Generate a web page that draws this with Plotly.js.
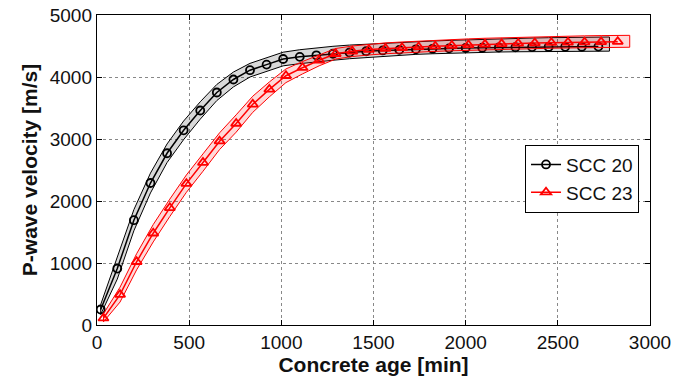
<!DOCTYPE html>
<html>
<head>
<meta charset="utf-8">
<script src="https://cdn.plot.ly/plotly-3.0.1.min.js"></script>
<style>html,body{margin:0;padding:0;background:#fff;}#chart{width:686px;height:380px;}</style>
</head>
<body>
<div id="chart"></div>
<script>
// ---- Data ----
const seriesNames = ["SCC 20", "SCC 23"];

const scc20Age = [20,110,200,290,380,470,560,650,740,830,920,1010,1100,1190,1280,1370,1460,1550,1640,1730,1820,1910,2000,2090,2180,2270,2360,2450,2540,2630,2720];
const scc20Vel = [250,910,1690,2290,2770,3140,3460,3750,3960,4110,4200,4290,4325,4350,4375,4395,4415,4428,4438,4447,4455,4462,4468,4472,4476,4480,4483,4485,4487,4488,4490];
const scc20BandAge = [20,110,200,290,380,470,560,650,740,830,920,1010,1100,1190,1280,1370,1460,1550,1640,1730,1820,1910,2000,2090,2180,2270,2360,2450,2540,2630,2720,2780];
const scc20Upper = [330,1080,1860,2450,2920,3290,3600,3880,4080,4220,4310,4400,4440,4470,4495,4515,4530,4545,4560,4570,4580,4590,4600,4608,4615,4622,4628,4634,4638,4642,4645,4645];
const scc20Lower = [170,740,1520,2130,2620,2990,3320,3620,3840,4000,4090,4180,4215,4245,4270,4295,4315,4335,4350,4365,4375,4385,4392,4398,4403,4407,4410,4413,4415,4416,4417,4417];

const scc23Age = [35,125,215,305,395,485,575,665,755,845,935,1025,1115,1205,1295,1385,1475,1565,1655,1745,1835,1925,2015,2105,2195,2285,2375,2465,2555,2645,2735,2825];
const scc23Vel = [110,490,1020,1480,1890,2280,2620,2965,3250,3560,3800,4020,4150,4270,4375,4415,4442,4460,4472,4485,4497,4508,4518,4527,4535,4542,4548,4553,4558,4562,4566,4570];
const scc23BandAge = [35,125,215,305,395,485,575,665,755,845,935,1025,1115,1205,1295,1385,1475,1565,1655,1745,1835,1925,2015,2105,2195,2285,2375,2465,2555,2645,2735,2825,2890];
const scc23Upper = [180,610,1150,1620,2030,2420,2760,3100,3390,3690,3920,4130,4250,4360,4460,4500,4530,4550,4565,4580,4592,4604,4615,4625,4633,4641,4648,4654,4659,4664,4668,4672,4672];
const scc23Lower = [50,370,890,1340,1750,2140,2480,2830,3110,3430,3680,3910,4050,4180,4290,4330,4355,4375,4390,4402,4413,4423,4432,4440,4447,4453,4459,4464,4468,4472,4476,4480,4480];

const xTicks = [0,500,1000,1500,2000,2500,3000];
const yTicks = [0,1000,2000,3000,4000,5000];

// ---- Build traces ----
function band(xs, up, lo, lineColor, fillColor) {
  return {
    x: xs.concat(xs.slice().reverse(), [xs[0]]),
    y: up.concat(lo.slice().reverse(), [up[0]]),
    type: "scatter", mode: "lines", fill: "toself",
    fillcolor: fillColor,
    line: {color: lineColor, width: 1},
    showlegend: false, hoverinfo: "skip"
  };
}

const traces = [
  band(scc20BandAge, scc20Upper, scc20Lower, "#000000", "rgba(0,0,0,0.15)"),
  {
    x: scc20Age, y: scc20Vel, name: seriesNames[0],
    type: "scatter", mode: "lines+markers",
    line: {color: "#000000", width: 1.5},
    marker: {symbol: "circle-open", size: 8, color: "#000000", line: {width: 1.8, color: "#000000"}}
  },
  band(scc23BandAge, scc23Upper, scc23Lower, "#ff0000", "rgba(255,0,0,0.15)"),
  {
    x: scc23Age, y: scc23Vel, name: seriesNames[1],
    type: "scatter", mode: "lines+markers",
    line: {color: "#ff0000", width: 1.5},
    marker: {symbol: "triangle-up-open", size: 9, color: "#ff0000", line: {width: 1.8, color: "#ff0000"}}
  }
];

const axisCommon = {
  showline: true, linecolor: "#000", linewidth: 1.2, mirror: "ticks",
  ticks: "inside", ticklen: 5, tickcolor: "#000",
  showgrid: true, gridcolor: "#888", griddash: "dot", gridwidth: 1,
  zeroline: false,
  tickfont: {family: "Liberation Sans, Arial, sans-serif", size: 19, color: "#111"}
};

const layout = {
  width: 686, height: 380,
  margin: {l: 97, r: 36, t: 15, b: 55},
  paper_bgcolor: "#fff", plot_bgcolor: "#fff",
  font: {family: "Liberation Sans, Arial, sans-serif", color: "#111"},
  xaxis: Object.assign({}, axisCommon, {
    range: [0, 3000], tickvals: xTicks, ticktext: xTicks.map(String),
    title: {text: "<b>Concrete age [min]</b>", font: {size: 21, color: "#111"}, standoff: 3}
  }),
  yaxis: Object.assign({}, axisCommon, {
    range: [0, 5000], tickvals: yTicks, ticktext: yTicks.map(String),
    title: {text: "<b>P-wave velocity [m/s]</b>", font: {size: 21, color: "#111"}, standoff: 6}
  }),
  showlegend: true,
  legend: {
    x: 0.774, y: 0.582, xanchor: "left", yanchor: "top",
    bgcolor: "#fff", bordercolor: "#000", borderwidth: 1,
    font: {size: 19, color: "#111"},
    tracegroupgap: 0, itemwidth: 30
  }
};

Plotly.newPlot("chart", traces, layout, {displayModeBar: false, staticPlot: true});
</script>
</body>
</html>
